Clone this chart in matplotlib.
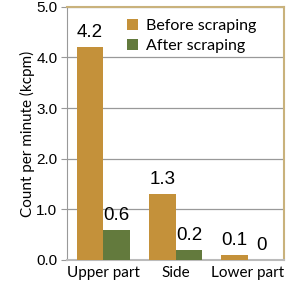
import matplotlib.pyplot as plt
import numpy as np

categories = ["Upper part", "Side", "Lower part"]
before = [4.2, 1.3, 0.1]
after = [0.6, 0.2, 0.0]
before_labels = ["4.2", "1.3", "0.1"]
after_labels = ["0.6", "0.2", "0"]

gold = "#c4913a"
green = "#637a3d"
frame = "#c9b27c"

fig = plt.figure(figsize=(2.88, 2.86), dpi=100)
ax = fig.add_axes([0.233, 0.091, 0.753, 0.885])

x = np.arange(len(categories))
w = 0.37
ax.bar(x - w/2, before, w, color=gold, label="Before scraping", zorder=3)
ax.bar(x + w/2, after, w, color=green, label="After scraping", zorder=3)

for i in range(len(categories)):
    ax.text(x[i] - w/2, before[i] + 0.12, before_labels[i], ha="center", va="bottom",
            fontsize=13.5, family="Liberation Sans")
    ax.text(x[i] + w/2, after[i] + 0.12, after_labels[i], ha="center", va="bottom",
            fontsize=13.5, family="Liberation Sans")

ax.set_xlim(-0.5, 2.5)
ax.set_ylim(0, 5)
ax.set_yticks(np.arange(0, 5.1, 1.0))
ax.set_yticklabels(["%.1f" % v for v in np.arange(0, 5.1, 1.0)], family="Liberation Sans", fontsize=11)
ax.set_xticks(x)
ax.set_xticklabels(categories, family="Lato", fontsize=11)
ax.tick_params(axis="x", length=0, pad=4)
ax.tick_params(axis="y", length=4, color="#999999", pad=3)
ax.grid(axis="y", color="#999999", linewidth=0.9, zorder=0)

ax.spines["top"].set_color(frame)
ax.spines["right"].set_color(frame)
ax.spines["top"].set_linewidth(1.5)
ax.spines["right"].set_linewidth(1.5)
ax.spines["left"].set_color("#999999")
ax.spines["bottom"].set_color("#bbbbbb")
ax.spines["bottom"].set_linewidth(1.5)

ax.set_ylabel("Count per minute (kcpm)", fontsize=11, family="Lato", labelpad=1)

ax.legend(loc="upper left", bbox_to_anchor=(0.21, 1.01), frameon=False, prop={"family": "Lato", "size": 11.5},
          handlelength=0.7, handleheight=0.7, handletextpad=0.5, labelspacing=0.4)

fig.savefig("out.png", dpi=100)
